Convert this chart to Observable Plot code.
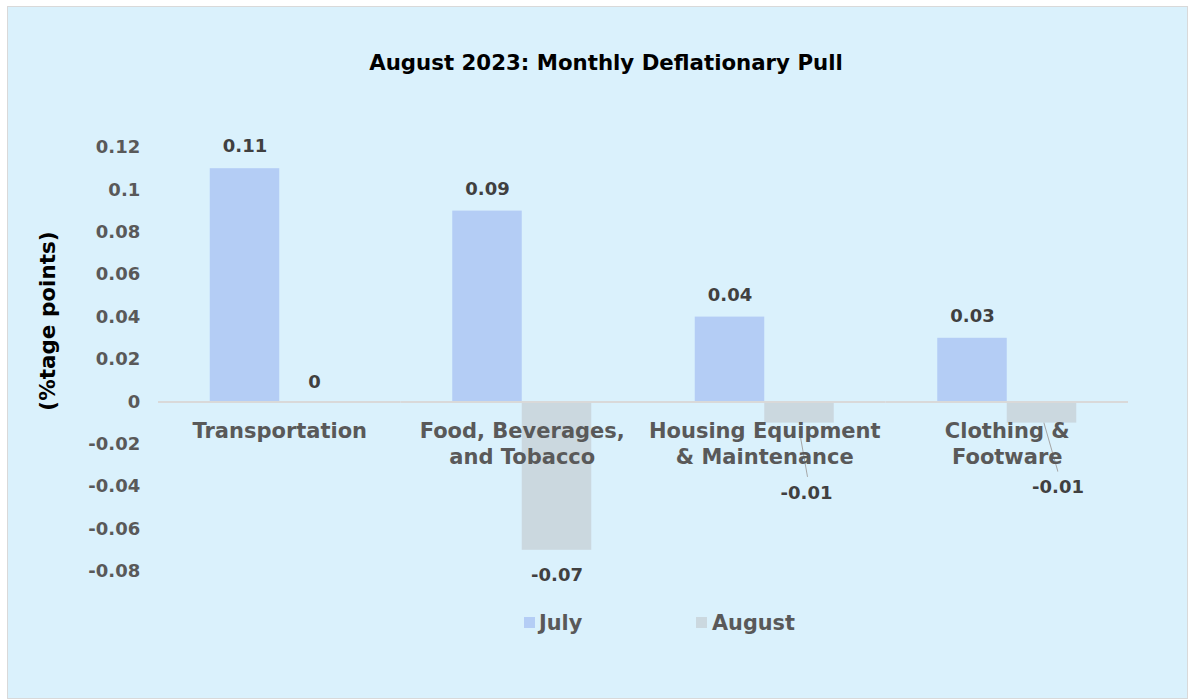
<!DOCTYPE html>
<html>
<head>
<meta charset="utf-8">
<script src="https://cdn.jsdelivr.net/npm/d3@7"></script>
<script src="https://cdn.jsdelivr.net/npm/@observablehq/plot@0.6"></script>
<style>
  html, body { margin: 0; padding: 0; background: #ffffff; }
  #wrap { position: relative; width: 1197px; height: 700px; font-family: "DejaVu Sans", Verdana, sans-serif; font-weight: bold; }
  #box { position: absolute; left: 7px; top: 6px; width: 1179px; height: 691px; background: #daf1fc; border: 1px solid #d9d9d9; }
  #chart { position: absolute; left: 0; top: 0; }
  #title { position: absolute; left: 0; width: 1212px; top: 50px; text-align: center; font-size: 21.3px; color: #000; }
  #ylabel { position: absolute; left: 47px; top: 321px; transform: translate(-50%, -50%) rotate(-90deg); white-space: nowrap; font-size: 21.5px; color: #000; }
  .leg { position: absolute; top: 611px; font-size: 20.8px; color: #595959; line-height: 25px; }
  .sw { position: absolute; top: 617px; width: 11px; height: 11px; }
</style>
</head>
<body>
<div id="wrap">
  <div id="box"></div>
  <div id="chart"></div>
  <div id="title">August 2023: Monthly Deflationary Pull</div>
  <div id="ylabel">(%tage points)</div>
  <div class="sw" id="sw0" style="left:524px"></div>
  <div class="leg" id="lg0" style="left:539px"></div>
  <div class="sw" id="sw1" style="left:696px"></div>
  <div class="leg" id="lg1" style="left:712px"></div>
</div>
<script>
const categories = ["Transportation", "Food, Beverages, and Tobacco", "Housing Equipment & Maintenance", "Clothing & Footware"];
const categoryLabels = ["Transportation", "Food, Beverages,\nand Tobacco", "Housing Equipment\n& Maintenance", "Clothing &\nFootware"];
const series = ["July", "August"];
const julyValues = [0.11, 0.09, 0.04, 0.03];
const augustValues = [0, -0.07, -0.01, -0.01];
const yTickValues = [-0.08, -0.06, -0.04, -0.02, 0, 0.02, 0.04, 0.06, 0.08, 0.1, 0.12];
const yTickLabels = ["-0.08", "-0.06", "-0.04", "-0.02", "0", "0.02", "0.04", "0.06", "0.08", "0.1", "0.12"];
const seriesColors = ["#b4cdf5", "#cbd8df"];

const rows = [];
categories.forEach((c, i) => {
  rows.push({category: c, series: series[0], value: julyValues[i]});
  rows.push({category: c, series: series[1], value: augustValues[i]});
});
const labelText = d => String(d.value);

const line = {draw(context, l) { context.moveTo(0, 0); context.lineTo(0, -l); }};

const chart = Plot.plot({
  width: 1197,
  height: 700,
  marginLeft: 158,
  marginRight: 69,
  marginTop: 147,
  marginBottom: 129,
  style: {background: "transparent", fontFamily: "'DejaVu Sans', Verdana, sans-serif", fontWeight: "bold", fontSize: "18px", color: "#595959", overflow: "visible"},
  fx: {domain: categories, paddingInner: 0.4268, paddingOuter: 0.2134, round: false, axis: null, label: null},
  x: {domain: series, padding: 0, round: false, axis: null},
  y: {domain: [-0.08, 0.12], ticks: yTickValues, tickFormat: (d) => yTickLabels[yTickValues.indexOf(d)], tickSize: 0, tickPadding: 70, label: null},
  color: {domain: series, range: seriesColors},
  marks: [
    Plot.barY(rows, {fx: "category", x: "series", y: "value", fill: "series"}),
    Plot.ruleY([0], {stroke: "#d9d9d9", strokeWidth: 2, insetLeft: -51.75, insetRight: -51.75}),
    Plot.text(rows.filter(d => d.series === "July"), {fx: "category", x: "series", y: "value", text: labelText, dy: -22, fill: "#404040", fontSize: 18}),
    Plot.text(rows.filter(d => d.series === "August" && d.value === 0), {fx: "category", x: "series", y: "value", text: labelText, dy: -20, fill: "#404040", fontSize: 18}),
    Plot.text(rows.filter(d => d.series === "August" && d.category === categories[1]), {fx: "category", x: "series", y: "value", text: labelText, dy: 25, fill: "#404040", fontSize: 18}),
    Plot.text(rows.filter(d => d.series === "August" && d.category === categories[2]), {fx: "category", x: "series", y: "value", text: labelText, dx: 7, dy: 70, fill: "#404040", fontSize: 18}),
    Plot.text(rows.filter(d => d.series === "August" && d.category === categories[3]), {fx: "category", x: "series", y: "value", text: labelText, dx: 16, dy: 64, fill: "#404040", fontSize: 18}),
    Plot.vector(rows.filter(d => d.series === "August" && d.category === categories[2]), {fx: "category", x: "series", y: "value", anchor: "start", length: 40, rotate: 170, dx: 1, dy: 14, shape: line, stroke: "#a6a6a6", strokeWidth: 1}),
    Plot.vector(rows.filter(d => d.series === "August" && d.category === categories[3]), {fx: "category", x: "series", y: "value", anchor: "start", length: 50, rotate: 164, dx: 2, dy: 0, shape: line, stroke: "#a6a6a6", strokeWidth: 1}),
    Plot.text(categories, {fx: d => d, y: () => 0, text: (d) => categoryLabels[categories.indexOf(d)], lineAnchor: "top", dy: 18, lineHeight: 1.24, fontSize: 21, fill: "#595959"})
  ]
});
document.getElementById("chart").appendChild(chart);
series.forEach((s, i) => {
  document.getElementById("sw" + i).style.background = seriesColors[i];
  document.getElementById("lg" + i).textContent = s;
});
</script>
</body>
</html>
